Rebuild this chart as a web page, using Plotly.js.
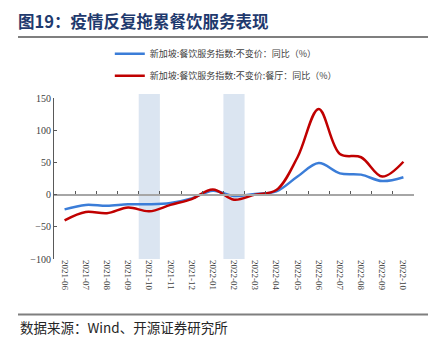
<!DOCTYPE html>
<html><head><meta charset="utf-8">
<script src="https://cdn.plot.ly/plotly-3.0.1.min.js"></script>
<style>html,body{margin:0;padding:0;background:#fff;}#chart{width:438px;height:346px;}</style>
</head><body><div id="chart"></div>
<script>
const months = ['2021-06','2021-07','2021-08','2021-09','2021-10','2021-11','2021-12','2022-01','2022-02','2022-03','2022-04','2022-05','2022-06','2022-07','2022-08','2022-09','2022-10'];
const foodService = [-23,-16,-17.5,-15,-15,-13,-6,6,-2,1,5,28,49,33,31,21,27];
const restaurants = [-40,-27,-29,-20,-26,-16,-7,8,-8,0,7,58,133,63,58,28,51];
const shadedMonths = ['2021-10','2022-02'];
const seriesNames = ['新加坡:餐饮服务指数:不变价：同比（%）','新加坡:餐饮服务指数:不变价:餐厅：同比（%）'];
const yTicks = [-100,-50,0,50,100,150];

const idx = m => months.indexOf(m);
const traces = [
  {x: months, y: foodService, name: seriesNames[0], legendgroup:'a', type:'scatter', mode:'lines',
   line:{color:'#3b7dd8', width:2.5, shape:'spline', smoothing:1}},
  {x: months, y: restaurants, name: seriesNames[1], legendgroup:'b', type:'scatter', mode:'lines',
   line:{color:'#c00000', width:2.5, shape:'spline', smoothing:1}},
  {x: months, y: months.map(()=>null), xaxis:'x2', showlegend:false, hoverinfo:'skip', mode:'lines'}
];
const shapes = shadedMonths.map(m => ({type:'rect', xref:'x', yref:'paper', x0: idx(m)-0.5, x1: idx(m)+0.5, y0:0, y1:1.025,
  fillcolor:'#dbe5f1', line:{width:0}, layer:'below'}));
shapes.push({type:'line', xref:'paper', yref:'paper', x0:-0.1, x1:1.0389, y0:1.3789, y1:1.3789, line:{color:'#7f7f7f', width:2}});
shapes.push({type:'line', xref:'paper', yref:'paper', x0:-0.1, x1:1.0389, y0:-0.345, y1:-0.345, line:{color:'#7f7f7f', width:2}});

const layout = {
  width:438, height:346,
  margin:{l:54, r:24, t:98, b:87},
  paper_bgcolor:'#fff', plot_bgcolor:'rgba(0,0,0,0)',
  title:{text:'图19：疫情反复拖累餐饮服务表现', xref:'container', yref:'container', x:18/438, xanchor:'left', y:1-22.5/346, yanchor:'middle',
    font:{family:'Noto Sans CJK SC', size:16.5, color:'#1f3a6e', weight:'bold'}},
  showlegend:true,
  legend:{x:0.155, y:1.365, xanchor:'left', yanchor:'top', traceorder:'grouped', tracegroupgap:3,
    font:{family:'Noto Sans CJK SC', size:9, color:'#404040'}, bgcolor:'rgba(0,0,0,0)'},
  xaxis:{type:'category', range:[-0.5,16.5], showline:false, ticks:'', tickangle:90, showgrid:false, zeroline:false,
    tickfont:{family:'Liberation Serif', size:9, color:'#404040'}, fixedrange:true},
  xaxis2:{type:'category', overlaying:'x', anchor:'free', position:0.4, side:'bottom', range:[-0.5,16.5], showline:true, linecolor:'#a6a6a6', linewidth:2,
    ticks:'inside', ticklen:3, tickcolor:'#595959', tickson:'boundaries', showticklabels:false, showgrid:false, zeroline:false, matches:'x'},
  yaxis:{range:[-100,150], tickvals:yTicks, ticks:'inside', ticklen:3, tickcolor:'#595959', showline:true, linecolor:'#595959', linewidth:1,
    showgrid:false, zeroline:false, tickfont:{family:'Liberation Serif', size:10, color:'#404040'}, fixedrange:true},
  shapes: shapes,
  annotations:[{text:'数据来源：Wind、开源证券研究所', xref:'paper', yref:'paper', x:-0.1, y:-0.42, xanchor:'left', yanchor:'middle', showarrow:false,
    font:{family:'Noto Sans CJK SC', size:13.5, color:'#262626'}}]
};
Plotly.newPlot('chart', traces, layout, {displayModeBar:false, staticPlot:true});
</script></body></html>
